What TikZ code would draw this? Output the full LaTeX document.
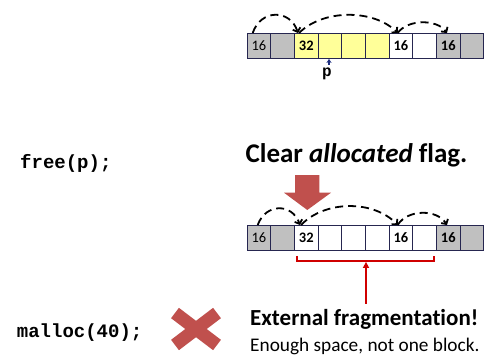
\documentclass[tikz,border=0pt]{standalone}
\usepackage{fontspec}
\setmainfont{Carlito}[Ligatures=NoCommon]
\newfontfamily\codefont{Liberation Mono}
\usetikzlibrary{arrows.meta,calc}

\definecolor{cellgray}{HTML}{C0C0C0}
\definecolor{cellyellow}{HTML}{FFFF99}
\definecolor{cellline}{HTML}{262650}
\definecolor{blockred}{HTML}{C0504D}
\definecolor{bracketred}{HTML}{D00000}
\definecolor{ptrblue}{HTML}{1F3080}

\begin{document}
\begin{tikzpicture}[x=1pt,y=-1pt,
  cell/.style={draw=cellline, line width=0.9pt, minimum width=23.66pt,
    minimum height=25pt, inner sep=0pt, anchor=north west,
    font=\fontsize{14.5}{14.5}\selectfont},
  link/.style={black, line width=1.8pt, dash pattern=on 8pt off 5pt,
    -{Straight Barb[length=3.5pt,width=8pt]}},
  ptr/.style={ptrblue, line width=1.2pt, -{Stealth[length=4pt,width=5pt]}},
  bracketline/.style={bracketred, line width=1.4pt},
  code/.style={anchor=base west, inner sep=0pt,
    font=\codefont\bfseries\fontsize{19}{19}\selectfont},
  bigred/.style={fill=blockred, draw=none}]

\fill[white] (0,0) rectangle (486,356);
\useasboundingbox (0,0) rectangle (486,356);

% heap before free: allocated block of 32 in yellow
\foreach \i/\f/\l in {0/cellgray/16, 1/cellgray/{}, 2/cellyellow/\textbf{32},
    3/cellyellow/{}, 4/cellyellow/{}, 5/cellyellow/{}, 6/white/\textbf{16},
    7/white/{}, 8/cellgray/\textbf{16}, 9/cellgray/{}}
  \node[cell, fill=\f] (t\i) at ({246.7+23.66*\i},33) {\l};

\draw[link] ($(t0.north west)+(6,0)$) .. controls +(8,-24) and +(-8,-24) .. ($(t2.north west)+(4,0)$);
\draw[link] ($(t2.north west)+(5,0)$) .. controls +(24,-24) and +(-24,-24) .. ($(t6.north west)+(9,0)$);
\draw[link] ($(t6.north west)+(9,0)$) .. controls +(10,-14) and +(-10,-14) .. ($(t8.north west)+(11,0)$);

\node[anchor=base, inner sep=0pt, font=\codefont\bfseries\fontsize{16}{16}\selectfont] (p) at (327,76.5) {p};
\draw[ptr] ($(p.north)+(2,-3)$) -- ($(p.north |- t3.south)+(2,0)$);

% calls
\node[code] (freecall) at (20,168) {free(p);};
\node[code] (malloccall) at (16.7,337.5) {malloc(40);};

\node[anchor=base, inner sep=0pt, font=\bfseries\fontsize{27}{27}\selectfont] (clear) at (356.5,162.7)
  {Clear \textit{allocated} flag.};

% big arrow down
\path[bigred] (295,175) -- (319.3,175) -- (319.3,192.7) -- (331,192.7) -- (307.3,210)
  -- (284,192.7) -- (295,192.7) -- cycle;

% heap after free
\foreach \i/\f/\l in {0/cellgray/16, 1/cellgray/{}, 2/white/\textbf{32},
    3/white/{}, 4/white/{}, 5/white/{}, 6/white/\textbf{16},
    7/white/{}, 8/cellgray/\textbf{16}, 9/cellgray/{}}
  \node[cell, fill=\f] (b\i) at ({246.7+23.66*\i},225) {\l};

\draw[link] ($(b0.north west)+(11,0)$) .. controls +(8,-22) and +(-8,-22) .. ($(b2.north west)+(6,0)$);
\draw[link] ($(b2.north west)+(7,0)$) .. controls +(24,-25) and +(-24,-25) .. ($(b6.north west)+(9,0)$);
\draw[link] ($(b6.north west)+(9,0)$) .. controls +(10,-16) and +(-10,-16) .. ($(b8.north west)+(11,0)$);

% bracket over the free blocks
\coordinate (bl) at ($(b2.south west)+(3,5)$);
\coordinate (br) at ($(b8.south west)+(-2,5)$);
\coordinate (bmid) at ($(bl)!0.5!(br)+(0.5,5)$);
\draw[bracketline] (bl) -- ++(0,5) -- ($(br)+(0,5)$) -- (br);
\coordinate (fragtail) at ($(bmid)+(0,43)$);
\draw[bracketline, line width=1.9pt, -{Triangle[length=6pt,width=6pt]}] (fragtail) -- ($(bmid)+(0,1)$);

% cross
\draw[blockred, line width=13pt] (175,313) -- (217,345);
\draw[blockred, line width=13pt] (175,345) -- (217,313);

\node[anchor=base west, inner sep=0pt, font=\bfseries\fontsize{23}{23}\selectfont] (ext) at (250,325)
  {External fragmentation!};
\node[anchor=base west, inner sep=0pt, font=\fontsize{19.3}{19.3}\selectfont] (enough) at (250,351)
  {Enough space, not one block.};
\end{tikzpicture}
\end{document}
